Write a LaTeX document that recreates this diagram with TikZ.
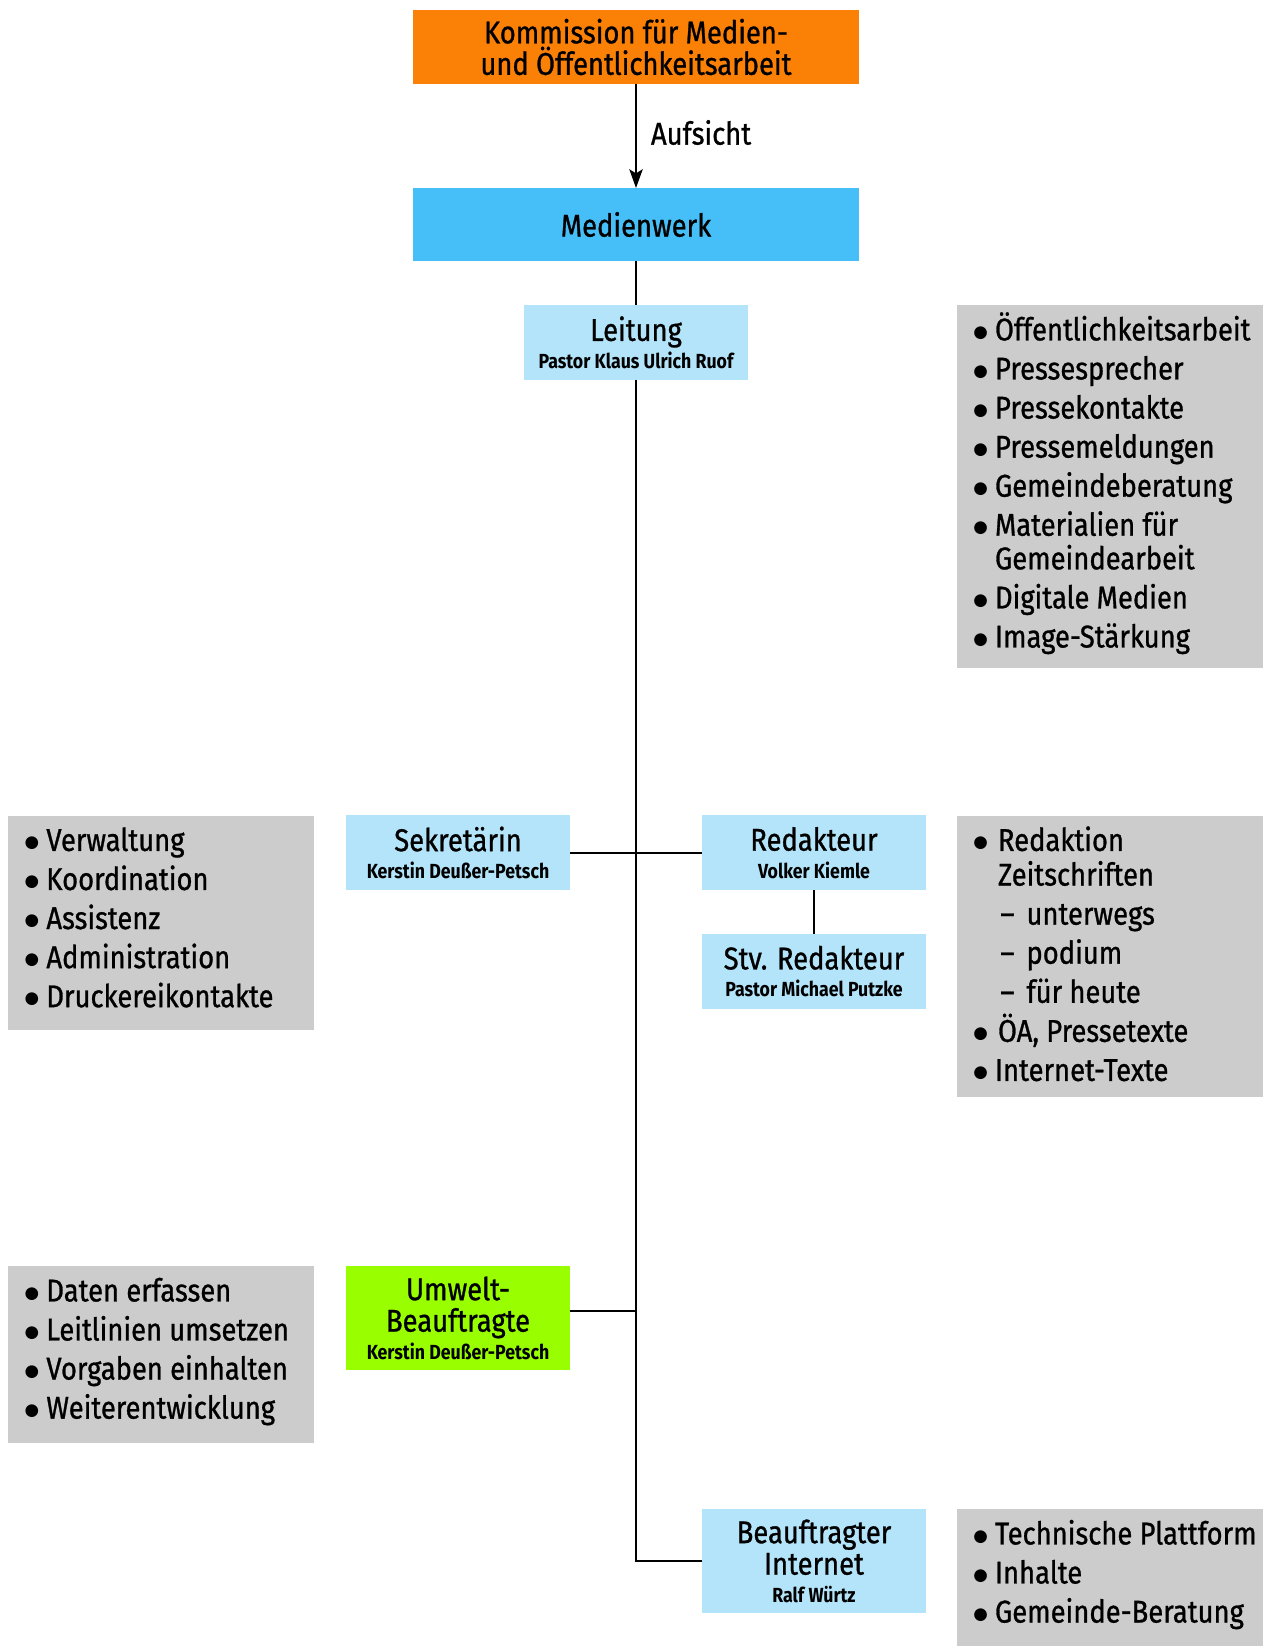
\documentclass[tikz,border=0pt]{standalone}
\usepackage{fontspec}
\setmainfont{Fira Sans}[FakeStretch=0.87, UprightFeatures={FakeBold=0.9}]
\newfontfamily\symf{DejaVu Sans}
\usetikzlibrary{arrows.meta,calc}
\definecolor{orangebox}{RGB}{250,128,6}
\definecolor{medblue}{RGB}{70,191,248}
\definecolor{lightblue}{RGB}{180,228,250}
\definecolor{greenbox}{RGB}{153,255,0}
\definecolor{graybox}{RGB}{204,204,204}
\newcommand\titlef{\fontsize{23.6}{23.6}\selectfont\lineskiplimit=-100pt\lineskip=0pt\relax}
\newcommand\listf{\fontsize{23.6}{25.2}\selectfont\lineskiplimit=-100pt\lineskip=0pt\relax}
\newcommand\subf{\fontsize{15.3}{15.3}\selectfont\bfseries}
\newcommand\bigbul{\raisebox{2.4pt}{\symf\fontsize{12.5}{12.5}\selectfont ●}}
\newcommand\bul{\makebox[14.25pt][l]{\hspace*{-2pt}\bigbul}}
\newcommand\bulw{\makebox[16.5pt][l]{\hspace*{-2pt}\bigbul}}
\newcommand\cont{\hspace*{14.25pt}}
\newcommand\subitm{\hspace*{18.2pt}\makebox[19.7pt][l]{–}}
\newcommand\fstrut{\rule{0pt}{24pt}}
\begin{document}
\begin{tikzpicture}[x=0.75pt,y=-0.75pt,
  every node/.style={inner sep=0pt, outer sep=0pt},
  conn/.style={line width=1.5pt, draw=black},
  topbox/.style={minimum width=333.8pt, minimum height=55.5pt, align=center, font=\titlef},
  bluebox/.style={fill=lightblue, minimum width=168pt, minimum height=56pt, align=center, font=\titlef},
  tallbox/.style={minimum width=168pt, minimum height=78pt, align=center, font=\titlef},
  grayrect/.style={fill=graybox, anchor=north west, minimum width=229.5pt},
  listtext/.style={anchor=north west, align=left, font=\listf},
]
\useasboundingbox (0,0) rectangle (1271,1646);

% main boxes
\node[topbox, fill=orangebox] (kom) at (636,47) {Kommission für Medien-\\und Öffentlichkeitsarbeit};
\node[topbox, fill=medblue, minimum height=54.75pt] (med) at (636,224.5) {Medienwerk};
\node[bluebox] (lei) at (636,342.5) {Leitung\\[-3pt]{\subf Pastor Klaus Ulrich Ruof}};
\node[bluebox] (sek) at (458,852.75) {Sekretärin\\[-3pt]{\subf Kerstin Deußer-Petsch}};
\node[bluebox] (red) at (814,852.75) {Redakteur\\[-3pt]{\subf Volker Kiemle}};
\node[bluebox] (stv) at (814,971.5) {Stv. Redakteur\\[-3pt]{\subf Pastor Michael Putzke}};
\node[tallbox, fill=greenbox] (umw) at (458,1318) {Umwelt-\\Beauftragte\\[-3pt]{\subf Kerstin Deußer-Petsch}};
\node[tallbox, fill=lightblue] (int) at (814,1561) {Beauftragter\\Internet\\[-3pt]{\subf Ralf Würtz}};

% gray boxes
\node[grayrect, minimum height=272.25pt] (g1) at (957,305) {};
\node[grayrect, minimum height=160.9pt] (g2) at (8.4,815.5) {};
\node[grayrect, minimum height=211.1pt] (g3) at (957,815.5) {};
\node[grayrect, minimum height=132.75pt] (g4) at (8.4,1266) {};
\node[grayrect, minimum height=110pt] (g5) at (957,1509) {};

\node[listtext] (g1t) at ($(g1.north west)+(19,3.4)$) {\fstrut\bul Öffentlichkeitsarbeit\\[4.1pt]
\bul Pressesprecher\\[4.1pt]
\bul Pressekontakte\\[4.1pt]
\bul Pressemeldungen\\[4.1pt]
\bul Gemeindeberatung\\[4.1pt]
\bul Materialien für\\
\cont Gemeindearbeit\\[4.1pt]
\bul Digitale Medien\\[4.1pt]
\bul Image-Stärkung};

\node[listtext] (g2t) at ($(g2.north west)+(19,3.4)$) {\fstrut\bul Verwaltung\\[4.1pt]
\bul Koordination\\[4.1pt]
\bul Assistenz\\[4.1pt]
\bul Administration\\[4.1pt]
\bul Druckereikontakte};

\node[listtext] (g3t) at ($(g3.north west)+(19,3.4)$) {\fstrut\bulw Redaktion\\[0.8pt]
\hspace*{16.5pt}Zeitschriften\\[4.1pt]
\subitm unterwegs\\[4.1pt]
\subitm podium\\[4.1pt]
\subitm für heute\\[4.1pt]
\bulw ÖA, Pressetexte\\[4.1pt]
\bul Internet-Texte};

\node[listtext] (g4t) at ($(g4.north west)+(19,3.4)$) {\fstrut\bul Daten erfassen\\[4.1pt]
\bul Leitlinien umsetzen\\[4.1pt]
\bul Vorgaben einhalten\\[4.1pt]
\bul Weiterentwicklung};

\node[listtext] (g5t) at ($(g5.north west)+(19,3.4)$) {\fstrut\bul Technische Plattform\\[4.1pt]
\bul Inhalte\\[4.1pt]
\bul Gemeinde-Beratung};

% connectors
\draw[conn, -{Stealth[length=14pt,width=10pt,inset=3pt]}] (kom) -- node[midway, anchor=west, xshift=11.25pt, yshift=2.6pt, font=\titlef] (aufs) {Aufsicht} (med);
\draw[conn] (med) -- (lei);
\draw[conn] (lei.south) |- (int.west);
\draw[conn] (sek) -- (red);
\draw[conn] (red) -- (stv);
\coordinate (umwc) at ($(umw.east)+(0,-7)$);
\draw[conn] (umwc) -- (umwc -| lei.south);
\end{tikzpicture}
\end{document}
